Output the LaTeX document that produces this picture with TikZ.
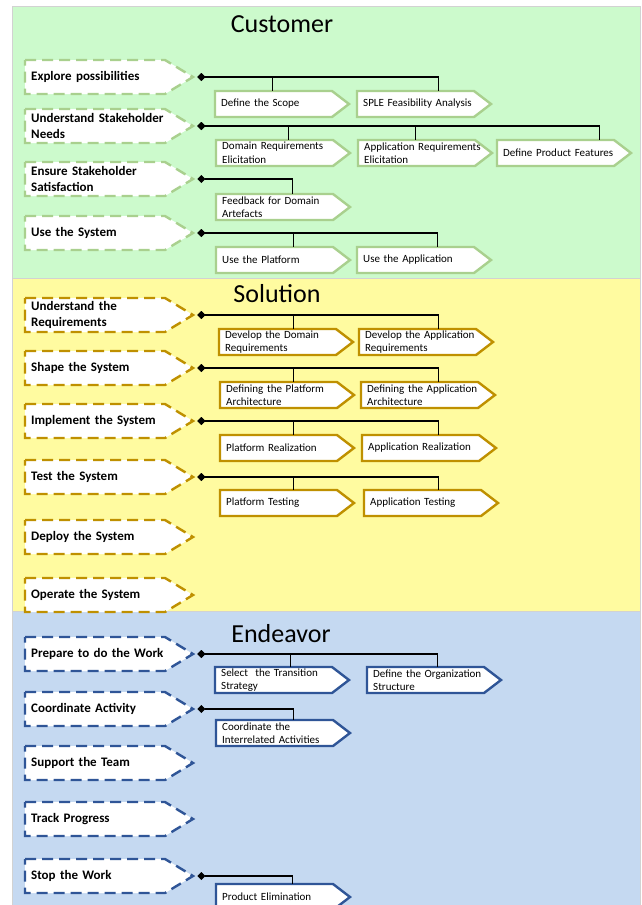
\documentclass[tikz,border=0pt]{standalone}
\usepackage{fontspec}
\setmainfont{Carlito}
\usetikzlibrary{arrows.meta}

\definecolor{custbg}{RGB}{204,250,204}
\definecolor{solbg}{RGB}{255,251,160}
\definecolor{endbg}{RGB}{197,217,241}
\definecolor{custline}{RGB}{169,208,142}
\definecolor{solline}{RGB}{191,144,0}
\definecolor{endline}{RGB}{47,85,151}

\tikzset{
  panel/.style={draw=gray!35, line width=0.8pt},
  areatitle/.style={font=\fontsize{26}{30}\selectfont},
  phase/.style={line width=2.4pt, dash pattern=on 11pt off 6pt, fill=white},
  act/.style={line width=2.4pt, fill=white},
  phaselbl/.style={anchor=west, minimum width=168pt, minimum height=34pt,
    text width=156pt, inner xsep=6pt, align=left,
    font=\fontsize{13}{16}\selectfont\bfseries},
  actlbl/.style={anchor=west, minimum width=134pt, minimum height=26pt,
    text width=122pt, inner xsep=6pt, inner ysep=0pt, align=left,
    font=\fontsize{11}{13.5}\selectfont},
  link/.style={line width=1.1pt, {Diamond[length=8pt,width=8pt]}-}
}

\begin{document}
\begin{tikzpicture}[x=1pt,y=-1pt]
  \useasboundingbox (0,0) rectangle (641,905);
  \clip (0,0) rectangle (641,905);

  % the three areas
  \filldraw[panel, fill=custbg] (12,6) rectangle (640,278);
  \filldraw[panel, fill=solbg] (12,278) rectangle (640,611);
  \filldraw[panel, fill=endbg] (12,611) rectangle (640,910);
  \node[areatitle] (custtitle) at (282,24) {Customer};
  \node[areatitle] (soltitle) at (277,294) {Solution};
  \node[areatitle] (endtitle) at (281,634) {Endeavor};

  % activity spaces, dashed
  \foreach \nm/\yy/\col/\txt in {
      explore/77/custline/Explore possibilities,
      needs/126/custline/{Understand Stakeholder\\Needs},
      satisfy/179/custline/{Ensure Stakeholder\\Satisfaction},
      usesys/233/custline/Use the System,
      underreq/315/solline/{Understand the\\Requirements},
      shape/368/solline/Shape the System,
      implement/421/solline/Implement the System,
      test/477/solline/Test the System,
      deploy/537/solline/Deploy the System,
      operate/595/solline/Operate the System,
      prepare/654/endline/Prepare to do the Work,
      coord/709/endline/Coordinate Activity,
      support/763/endline/Support the Team,
      track/819/endline/Track Progress,
      stop/876/endline/Stop the Work} {
    \draw[phase, draw=\col] (25,\yy-17) -- (165,\yy-17) -- (193,\yy)
      -- (165,\yy+17) -- (25,\yy+17) -- cycle;
    \node[phaselbl] (\nm) at (25,\yy) {\txt};
  }

  % activities, solid
  \foreach \nm/\xx/\yy/\col/\txt in {
      scope/215/104/custline/Define the Scope,
      sple/357/104/custline/SPLE Feasibility Analysis,
      domreq/216/153/custline/{Domain Requirements\\Elicitation},
      appreq/358/153/custline/{Application Requirements\\Elicitation},
      features/497/153/custline/Define Product Features,
      feedback/216/207/custline/{Feedback for Domain\\Artefacts},
      useplat/216/260/custline/Use the Platform,
      useapp/357/260/custline/Use the Application,
      devdom/219/342/solline/{Develop the Domain\\Requirements},
      devapp/359/342/solline/{Develop the Application\\Requirements},
      defplat/220/395/solline/{Defining the Platform\\Architecture},
      defapp/361/395/solline/{Defining the Application\\Architecture},
      platreal/220/448/solline/Platform Realization,
      appreal/362/448/solline/Application Realization,
      plattest/220/503/solline/Platform Testing,
      apptest/364/503/solline/Application Testing,
      transition/215/680/endline/{Select~ the Transition\\Strategy},
      org/367/680/endline/{Define the Organization\\Structure},
      interrel/216/733/endline/{Coordinate the\\Interrelated Activities},
      elim/216/897/endline/Product Elimination} {
    \draw[act, draw=\col] (\xx,\yy-13) -- (\xx+117,\yy-13) -- (\xx+134,\yy)
      -- (\xx+117,\yy+13) -- (\xx,\yy+13) -- cycle;
    \node[actlbl] (\nm) at (\xx,\yy) {\txt};
  }

  % Customer links
  \draw[link] ([xshift=4pt]explore.east) -| ([xshift=-10pt]scope.north);
  \draw[link] ([xshift=4pt]explore.east) -| ([xshift=14pt]sple.north);
  \draw[link] ([xshift=4pt]needs.east) -| ([xshift=5pt]domreq.north);
  \draw[link] ([xshift=4pt]needs.east) -| ([xshift=-10pt]appreq.north);
  \draw[link] ([xshift=4pt]needs.east) -| ([xshift=35pt]features.north);
  \draw[link] ([xshift=4pt]satisfy.east) -| ([xshift=9pt]feedback.north);
  \draw[link] ([xshift=4pt]usesys.east) -| ([xshift=10pt]useplat.north);
  \draw[link] ([xshift=4pt]usesys.east) -| ([xshift=13pt]useapp.north);

  % Solution links
  \draw[link] ([xshift=4pt]underreq.east) -| ([xshift=7pt]devdom.north);
  \draw[link] ([xshift=4pt]underreq.east) -| ([xshift=12pt]devapp.north);
  \draw[link] ([xshift=4pt]shape.east) -| ([xshift=6pt]defplat.north);
  \draw[link] ([xshift=4pt]shape.east) -| ([xshift=10pt]defapp.north);
  \draw[link] ([xshift=4pt]implement.east) -| ([xshift=6pt]platreal.north);
  \draw[link] ([xshift=4pt]implement.east) -| ([xshift=9pt]appreal.north);
  \draw[link] ([xshift=4pt]test.east) -| ([xshift=6pt]plattest.north);
  \draw[link] ([xshift=4pt]test.east) -| ([xshift=7pt]apptest.north);

  % Endeavor links
  \draw[link] ([xshift=4pt]prepare.east) -| ([xshift=8pt]transition.north);
  \draw[link] ([xshift=4pt]prepare.east) -| ([xshift=3pt]org.north);
  \draw[link] ([xshift=4pt]coord.east) -| ([xshift=10pt]interrel.north);
  \draw[link] ([xshift=4pt]stop.east) -| ([xshift=9pt]elim.north);
\end{tikzpicture}
\end{document}
